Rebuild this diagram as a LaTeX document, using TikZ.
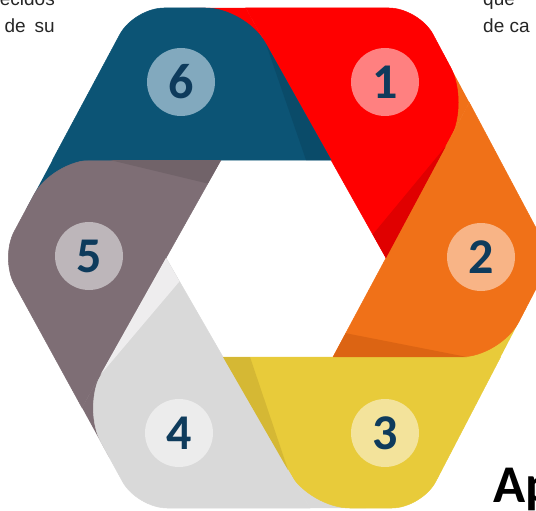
\documentclass[tikz,border=0pt]{standalone}
\usepackage{fontspec}
\setmainfont{Carlito}
\newfontfamily\slidefont{Liberation Sans}
\usepackage{xcolor}
\definecolor{c_blue}{HTML}{0C5475}
\definecolor{c_red}{HTML}{FF0000}
\definecolor{c_orange}{HTML}{F07118}
\definecolor{c_yellow}{HTML}{E8CB3A}
\definecolor{c_grey}{HTML}{D9D9D9}
\definecolor{c_mauve}{HTML}{7E6E75}
\definecolor{c_blue_dk}{HTML}{0A4B69}
\definecolor{c_red_dk}{HTML}{E00000}
\definecolor{c_orange_dk}{HTML}{DC6413}
\definecolor{c_yellow_dk}{HTML}{D5B834}
\definecolor{c_grey_dk}{HTML}{EEEDEE}
\definecolor{c_mauve_dk}{HTML}{716369}
\definecolor{c_blue_lt}{HTML}{82A9BE}
\definecolor{c_red_lt}{HTML}{FF8080}
\definecolor{c_orange_lt}{HTML}{F8B486}
\definecolor{c_yellow_lt}{HTML}{F3E39B}
\definecolor{c_grey_lt}{HTML}{ECECEC}
\definecolor{c_mauve_lt}{HTML}{BDB6BA}
\definecolor{c_navy}{HTML}{0E3B5C}
\definecolor{c_text}{HTML}{262626}
\usetikzlibrary{calc,positioning}

\begin{document}
\begin{tikzpicture}[
        x=1pt, y=-1pt,
        band/.style={fill=#1, draw=#1, line width=.5pt},
        num/.style={circle, minimum size=68pt, inner sep=0pt, text=c_navy,
            font=\bfseries\fontsize{50}{50}\selectfont},
        txt/.style={text=c_text, inner sep=0pt, font=\slidefont\fontsize{19}{19}\selectfont}]
    \clip (0,0) rectangle (536,511);
    % outer and inner hexagon
    \coordinate (oTL) at (134,8);
    \coordinate (oTR) at (419,8);
    \coordinate (oR) at (552,258);
    \coordinate (oBR) at (422,508);
    \coordinate (oBL) at (137,508);
    \coordinate (oL) at (0,258);
    \coordinate (iTL) at (221,160);
    \coordinate (iTR) at (331,160);
    \coordinate (iR) at (386,258);
    \coordinate (iBR) at (333,357);
    \coordinate (iBL) at (223,357);
    \coordinate (iL) at (166,258);
    % ends of the bands
    \coordinate (e6) at (intersection of oTL--oTR and iTR--iR);
    \coordinate (e1) at (intersection of oTR--oR and iR--iBR);
    \coordinate (e2) at (intersection of oR--oBR and iBR--iBL);
    \coordinate (e3) at (intersection of oBR--oBL and iBL--iL);
    \coordinate (e4) at (intersection of oBL--oL and iL--iTL);
    \coordinate (e5) at (intersection of oL--oTL and iTL--iTR);
    % pieces under the rounded ends
    \fill[c_red] (iTR) -- ($(oTL)!.5!(e6)$) -- (e6) -- cycle;
    \fill[c_orange] (iR) -- ($(oTR)!.5!(e1)$) -- (e1) -- cycle;
    \fill[c_yellow] (iBR) -- ($(oR)!.5!(e2)$) -- (e2) -- cycle;
    \fill[c_grey] (iBL) -- ($(oBR)!.5!(e3)$) -- (e3) -- cycle;
    \fill[c_mauve] (iL) -- ($(oBL)!.5!(e4)$) -- (e4) -- cycle;
    \fill[c_blue] (iTL) -- ($(oL)!.5!(e5)$) -- (e5) -- cycle;
    % bands
    \path[band=c_red] (e6) [rounded corners=30pt] -- (oTR) [rounded corners=40pt] -- (e1) [sharp corners] -- (iR) -- cycle;
    \path[band=c_orange] (e1) [rounded corners=30pt] -- (oR) [rounded corners=40pt] -- (e2) [sharp corners] -- (iBR) -- cycle;
    \path[band=c_yellow] (e2) [rounded corners=30pt] -- (oBR) [rounded corners=40pt] -- (e3) [sharp corners] -- (iBL) -- cycle;
    \path[band=c_grey] (e3) [rounded corners=30pt] -- (oBL) [rounded corners=40pt] -- (e4) [sharp corners] -- (iL) -- cycle;
    \path[band=c_mauve] (e4) [rounded corners=30pt] -- (oL) [rounded corners=40pt] -- (e5) [sharp corners] -- (iTL) -- cycle;
    \path[band=c_blue] (e5) [rounded corners=30pt] -- (oTL) [rounded corners=40pt] -- (e6) [sharp corners] -- (iTR) -- cycle;
    % folds
    \fill[c_red_dk] (iR) -- ($(iR)!27pt!(e6)$) -- ($(iR)!.72!(e1)$) -- cycle;
    \fill[c_orange_dk] (iBR) -- ($(iBR)!27pt!(e1)$) -- ($(iBR)!.8!(e2)$) -- cycle;
    \fill[c_yellow_dk] (iBL) -- ($(iBL)!27pt!(e2)$) -- ($(iBL)!.75!(e3)$) -- cycle;
    \fill[c_grey_dk] (iL) -- ($(iL)!27pt!(e3)$) -- ($(iL)!.78!(e4)$) -- cycle;
    \fill[c_mauve_dk] (iTL) -- ($(iTL)!27pt!(e4)$) -- ($(iTL)!.66!(e5)$) -- cycle;
    \fill[c_blue_dk] (iTR) -- ($(iTR)!25pt!(e5)$) -- ($(iTR)!.76!(e6)$) -- cycle;
    % numbers
    \node[num, fill=c_red_lt] (n1) at (385,82) {1};
    \node[num, fill=c_orange_lt] (n2) at (481,257) {2};
    \node[num, fill=c_yellow_lt] (n3) at (385,433) {3};
    \node[num, fill=c_grey_lt] (n4) at (179,433) {4};
    \node[num, fill=c_mauve_lt] (n5) at (89,256) {5};
    \node[num, fill=c_blue_lt] (n6) at (181,82) {6};
    % text of the slide
    \node[txt, anchor=base east] (tl1) at (55,6) {ecidos};
    \node[txt, anchor=base east] (tl2) at (55,33) {de\hspace{9pt}su};
    \node[txt, anchor=base west] (tr1) at (483,6) {que};
    \node[txt, anchor=base west] (tr2) at (483,33) {de ca};
    \node[anchor=base west, inner sep=0pt, font=\bfseries\fontsize{53}{53}\selectfont] (ap) at (493,502) {Ap};
\end{tikzpicture}
\end{document}
